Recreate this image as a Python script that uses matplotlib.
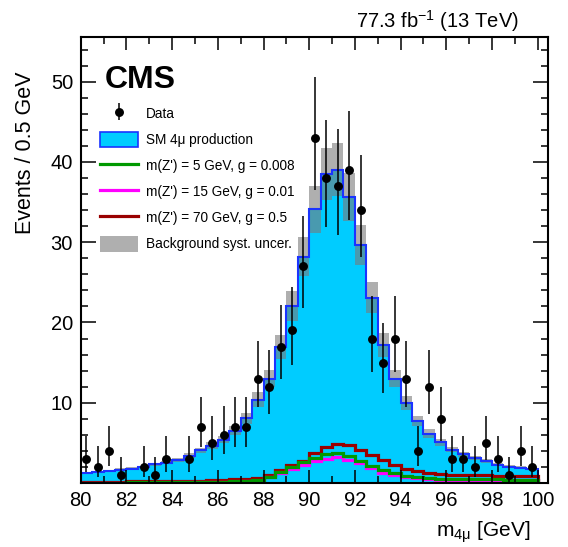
import numpy as np
import matplotlib
matplotlib.use("Agg")
import matplotlib.pyplot as plt
from matplotlib.patches import Patch
from matplotlib.lines import Line2D
from matplotlib.ticker import MultipleLocator, FuncFormatter
from matplotlib.legend_handler import HandlerErrorbar

plt.rcParams['font.family'] = ['Liberation Sans', 'DejaVu Sans']
plt.rcParams['mathtext.fontset'] = 'custom'
plt.rcParams['mathtext.rm'] = 'Liberation Sans'
plt.rcParams['mathtext.it'] = 'Liberation Sans:italic'

# 0.5 GeV bins from 80 to 100 GeV
edges = np.linspace(80, 100, 41)
centers = 0.5 * (edges[:-1] + edges[1:])

data_counts = [3, 2, 4, 1, 0, 2, 1, 3, 0, 3,
               7, 5, 6, 7, 7, 13, 12, 17, 19, 27,
               43, 38, 37, 39, 34, 18, 15, 18, 13, 4,
               12, 8, 3, 3, 2, 5, 3, 1, 4, 2]

sm_4mu = [1.3, 1.42, 1.55, 1.68, 1.8, 2.0, 2.35, 2.55, 2.9, 3.4,
          4.05, 4.65, 5.4, 6.5, 8.05, 10.4, 13.0, 16.95, 22.1, 28.2,
          34.1, 38.5, 39.0, 35.6, 29.7, 23.1, 17.2, 13.0, 9.95, 7.7,
          6.15, 5.05, 4.15, 3.6, 3.1, 2.7, 2.3, 2.05, 1.9, 1.75]

bkg_unc = [0.11, 0.12, 0.13, 0.14, 0.15, 0.17, 0.2, 0.22, 0.25, 0.29,
           0.34, 0.4, 0.46, 0.55, 0.68, 0.88, 1.1, 1.44, 1.88, 2.4,
           2.9, 3.25, 3.3, 3.0, 2.5, 1.95, 1.45, 1.1, 0.85, 0.65,
           0.52, 0.43, 0.35, 0.31, 0.26, 0.23, 0.2, 0.17, 0.16, 0.15]

zp5 = [0.05, 0.05, 0.06, 0.06, 0.07, 0.07, 0.08, 0.09, 0.1, 0.11,
       0.13, 0.15, 0.18, 0.22, 0.3, 0.42, 0.8, 1.33, 2.05, 2.65,
       3.15, 3.6, 3.7, 3.36, 2.7, 2.12, 1.62, 1.2, 0.91, 0.7,
       0.6, 0.55, 0.5, 0.48, 0.46, 0.45, 0.44, 0.43, 0.42, 0.42]

zp15 = [0.03, 0.03, 0.04, 0.04, 0.05, 0.05, 0.06, 0.07, 0.08, 0.09,
        0.1, 0.12, 0.14, 0.17, 0.22, 0.3, 0.7, 1.2, 1.7, 2.25,
        2.8, 3.0, 3.2, 2.87, 2.45, 1.83, 1.29, 1.0, 0.7, 0.58,
        0.48, 0.42, 0.4, 0.38, 0.36, 0.35, 0.34, 0.33, 0.32, 0.32]

zp70 = [0.15, 0.16, 0.17, 0.18, 0.19, 0.2, 0.22, 0.24, 0.26, 0.28,
        0.3, 0.33, 0.38, 0.45, 0.52, 0.6, 1.05, 1.65, 2.2, 2.8,
        3.7, 4.45, 4.9, 4.7, 4.1, 3.55, 2.85, 2.2, 1.75, 1.45,
        1.3, 1.15, 1.05, 1.0, 0.98, 0.95, 0.92, 0.9, 0.88, 0.85]

sig_labels = ["m(Z') = 5 GeV, g = 0.008",
              "m(Z') = 15 GeV, g = 0.01",
              "m(Z') = 70 GeV, g = 0.5"]
sig_colors = ["#009900", "#ff00ff", "#990000"]

c_fill = "#00ccff"
c_line = "#1a33ff"
c_band = "#7a7a7a"


def poisson_interval(n):
    # Garwood 68% interval (Wilson-Hilferty approximation)
    n = np.asarray(n, dtype=float)
    m = np.maximum(n, 1)
    lo = n * (1 - 1 / (9 * m) - 1 / (3 * np.sqrt(m))) ** 3
    hi = (n + 1) * (1 - 1 / (9 * (n + 1)) + 1 / (3 * np.sqrt(n + 1))) ** 3
    return lo, hi


fig = plt.figure(figsize=(5.68, 5.47), dpi=100)
ax = fig.add_axes([80.7 / 568, 1 - 483 / 547, 467.3 / 568, 446.3 / 547])

sm = np.array(sm_4mu)
unc = np.array(bkg_unc)

ax.stairs(sm, edges, fill=True, color=c_fill, lw=0, zorder=1)
ax.stairs(sm + unc, edges, baseline=sm - unc, fill=True,
          color=c_band, alpha=0.6, lw=0, zorder=1.2)
ax.stairs(sm, edges, color=c_line, lw=1.5, zorder=1.4)

for vals, col in zip([zp5, zp15, zp70][::-1], sig_colors[::-1]):
    ax.stairs(vals, edges, color=col, lw=2.3, zorder=1.6)

counts = np.array(data_counts)
lo, hi = poisson_interval(counts)
keep = counts > 0
eb = ax.errorbar(centers[keep], counts[keep],
                 yerr=[counts[keep] - lo[keep], hi[keep] - counts[keep]],
                 fmt='o', color='black', ms=5.4, elinewidth=1.1,
                 capsize=0, zorder=2.2)

ax.set_xlim(80, 100.45)
ax.set_ylim(0, 55.6)
ax.set_axisbelow(False)

ax.xaxis.set_major_locator(MultipleLocator(2))
ax.xaxis.set_minor_locator(MultipleLocator(1))
ax.yaxis.set_major_locator(MultipleLocator(10))
ax.yaxis.set_minor_locator(MultipleLocator(2))
ax.yaxis.set_major_formatter(FuncFormatter(lambda v, p: '' if v == 0 else f'{v:g}'))
ax.tick_params(which='both', direction='in', top=True, right=True,
               width=1.1, labelsize=14.5)
ax.tick_params(axis='x', which='major', length=9.4, pad=5.5)
ax.tick_params(axis='x', which='minor', length=4.7)
ax.tick_params(axis='y', which='major', length=10.8, pad=5.5)
ax.tick_params(axis='y', which='minor', length=5)
for sp in ax.spines.values():
    sp.set_linewidth(1.5)

fig.text(26 / 568, 1 - 71 / 547, "Events / 0.5 GeV", rotation=90,
         ha='center', va='top', fontsize=15.5)
fig.text(530 / 568, 1 - 537 / 547, r"m$_{\mathregular{4μ}}$ [GeV]",
         ha='right', va='baseline', fontsize=15)
fig.text(519 / 568, 1 - 28 / 547, r"77.3 fb$^{\mathregular{-1}}$ (13 TeV)",
         ha='right', va='baseline', fontsize=14.5)
ax.text(0.052, 0.885, "CMS", transform=ax.transAxes, fontsize=23,
        fontweight='bold', ha='left', va='baseline')

handles = [eb,
           Patch(facecolor=c_fill, edgecolor=c_line, lw=1.2),
           Line2D([], [], color=sig_colors[0], lw=2.3),
           Line2D([], [], color=sig_colors[1], lw=2.3),
           Line2D([], [], color=sig_colors[2], lw=2.3),
           Patch(facecolor=c_band, alpha=0.6, lw=0)]
labels = ["Data", "SM 4μ production"] + sig_labels + ["Background syst. uncer."]
ax.legend(handles, labels, loc='upper left', bbox_to_anchor=(0.041, 0.846),
          frameon=False, fontsize=9.8, handlelength=2.8, handleheight=1.35,
          labelspacing=0.8, handletextpad=0.6, borderpad=0,
          borderaxespad=0,
          handler_map={type(eb): HandlerErrorbar(yerr_size=0.65)})

fig.savefig("out.png", dpi=100)
